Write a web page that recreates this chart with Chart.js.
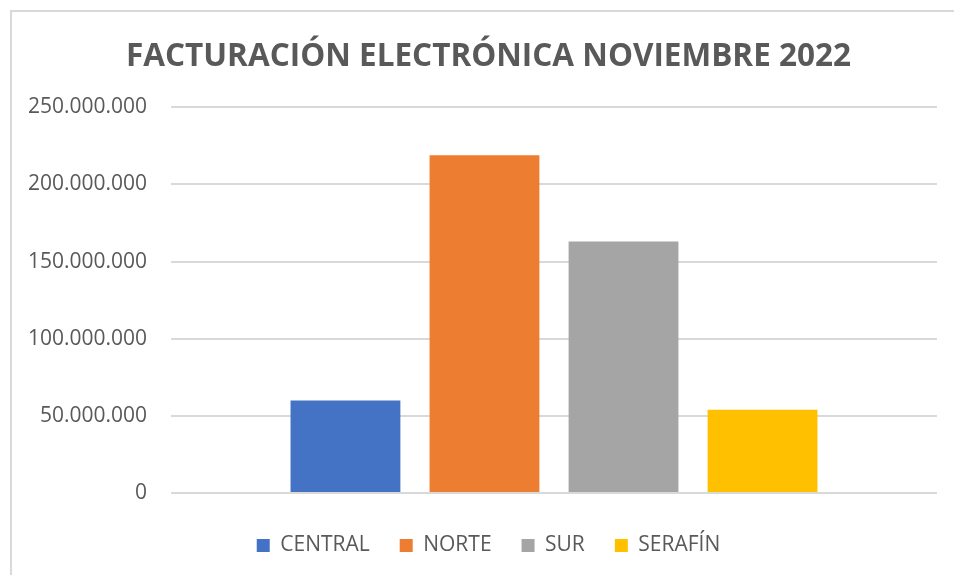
<!DOCTYPE html>
<html>
<head>
<meta charset="utf-8">
<script src="https://cdn.jsdelivr.net/npm/chart.js@4/dist/chart.umd.min.js"></script>
<style>
  html, body { margin: 0; padding: 0; background: #fff; }
  #wrap { position: relative; width: 954px; height: 575px; overflow: hidden; }
  #frame {
    position: absolute; left: 10px; top: 10px; width: 1000px; height: 700px;
    border-left: 2px solid #d9d9d9; border-top: 2px solid #d9d9d9;
  }
  canvas { position: absolute; left: 0; top: 0; }
</style>
</head>
<body>
<div id="wrap">
  <div id="frame"></div>
  <canvas id="chart" width="954" height="575"></canvas>
</div>
<script>
// --- Datos del gráfico ---
const chartTitle = 'FACTURACIÓN ELECTRÓNICA NOVIEMBRE 2022';
const seriesNames = ['CENTRAL', 'NORTE', 'SUR', 'SERAFÍN'];
const seriesValues = [60000000, 219000000, 163000000, 54000000];
const seriesColors = ['#4472C4', '#ED7D31', '#A5A5A5', '#FFC000'];
const yTicks = [0, 50000000, 100000000, 150000000, 200000000, 250000000];

const textColor = '#595959';
const gridColor = '#d9d9d9';

// Formato con puntos como separador de miles
function formatNumber(v) {
    return String(Math.round(v)).replace(/\B(?=(\d{3})+(?!\d))/g, '.');
}

// Un dataset por zona, una sola categoría (como en Excel)
const datasets = seriesNames.map((name, i) => ({
    label: name,
    data: [seriesValues[i]],
    backgroundColor: seriesColors[i],
    borderWidth: 0,
    categoryPercentage: 0.726,
    barPercentage: 0.79
}));

// El eje Y recorta sus etiquetas a su propia caja; la ensanchamos hacia la izquierda
// después del layout para que no se corten (el título y la leyenda quedan centrados igual)
const widenYAxis = {
    id: 'widenYAxis',
    afterLayout(chart) {
        chart.scales.y.left = 0;
    }
};

new Chart(document.getElementById('chart'), {
    type: 'bar',
    data: { labels: [''], datasets: datasets },
    plugins: [widenYAxis],
    options: {
        responsive: false,
        animation: false,
        // padding izquierdo mayor: el gráfico original está recortado a la izquierda
        layout: { padding: { left: 40, right: 17, top: 10, bottom: 9 } },
        plugins: {
            title: {
                display: true,
                text: chartTitle,
                color: textColor,
                font: { family: 'Open Sans', size: 31.5, weight: 'bold' },
                padding: { top: 28, bottom: 31.5 }
            },
            legend: {
                position: 'bottom',
                labels: {
                    color: textColor,
                    font: { family: 'Open Sans', size: 21 },
                    boxWidth: 13,
                    boxHeight: 13,
                    padding: 30
                }
            },
            tooltip: { enabled: false }
        },
        scales: {
            x: {
                afterFit: (scale) => { scale.height = 12; },
                ticks: { display: false },
                grid: { display: false },
                border: { display: false }
            },
            y: {
                min: 0,
                max: 250000000,
                afterBuildTicks: (scale) => { scale.ticks = yTicks.map(v => ({ value: v })); },
                afterFit: (scale) => { scale.width = 131; },
                ticks: {
                    color: textColor,
                    font: { family: 'Open Sans', size: 21 },
                    padding: 24,
                    callback: (v) => formatNumber(v)
                },
                grid: { color: gridColor, lineWidth: 2, drawTicks: false },
                border: { display: false }
            }
        }
    }
});
</script>
</body>
</html>
